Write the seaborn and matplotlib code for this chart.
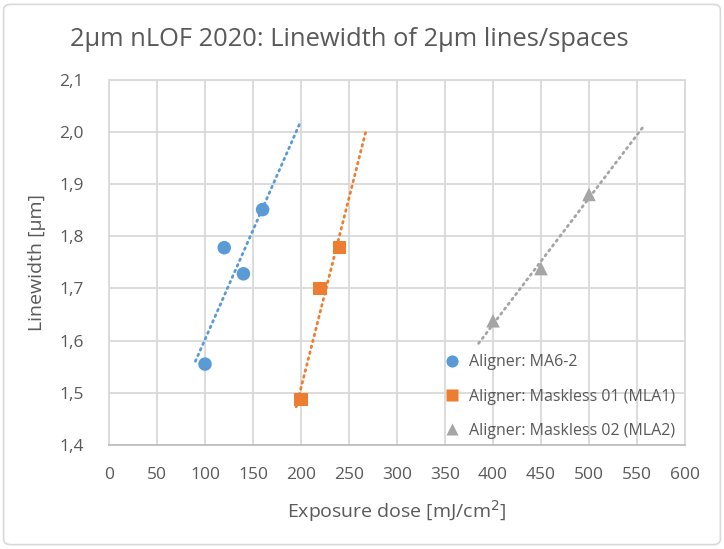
import numpy as np
import pandas as pd
import seaborn as sns
import matplotlib.pyplot as plt
from matplotlib.patches import FancyBboxPatch

# data
ma6_dose = [100, 120, 140, 160]
ma6_width = [1.555, 1.778, 1.728, 1.851]
mla1_dose = [200, 220, 240]
mla1_width = [1.487, 1.700, 1.778]
mla2_dose = [400, 450, 500]
mla2_width = [1.638, 1.738, 1.880]

series_names = ["Aligner: MA6-2", "Aligner: Maskless 01 (MLA1)", "Aligner: Maskless 02 (MLA2)"]
series_colors = ["#5B9BD5", "#ED7D31", "#A5A5A5"]
series_markers = ["o", "s", "^"]
# trendline extension (backward, forward) as set in the spreadsheet
trend_ext = [(10, 40), (5, 28), (15, 58)]

x_ticks = list(range(0, 601, 50))
y_ticks = [1.4, 1.5, 1.6, 1.7, 1.8, 1.9, 2.0, 2.1]
y_ticklabels = ["1,4", "1,5", "1,6", "1,7", "1,8", "1,9", "2,0", "2,1"]

df = pd.concat([
    pd.DataFrame({"dose": ma6_dose, "width": ma6_width, "series": series_names[0]}),
    pd.DataFrame({"dose": mla1_dose, "width": mla1_width, "series": series_names[1]}),
    pd.DataFrame({"dose": mla2_dose, "width": mla2_width, "series": series_names[2]}),
])

sns.set_theme(style="white")
plt.rcParams["font.family"] = ["Open Sans", "DejaVu Sans"]
text_col = "#595959"

fig = plt.figure(figsize=(7.24, 5.49), dpi=100)
fig.patch.set_facecolor("white")
ax = fig.add_axes([0.1506, 0.1894, 0.7955, 0.6656])

# chart border
border = FancyBboxPatch((0.005, 0.008), 0.99, 0.984, boxstyle="round,pad=0,rounding_size=0.01",
                        transform=fig.transFigure, fill=False, edgecolor="#D9D9D9", linewidth=1.2)
fig.patches.append(border)

# trendlines
for name, color, (back, fwd) in zip(series_names, series_colors, trend_ext):
    sub = df[df["series"] == name]
    k, b = np.polyfit(sub["dose"], sub["width"], 1)
    xs = np.array([sub["dose"].min() - back, sub["dose"].max() + fwd])
    ax.plot(xs, k * xs + b, color=color, linewidth=2, linestyle=(0, (0.6, 1.6)),
            dash_capstyle="round", zorder=2)

sns.scatterplot(data=df, x="dose", y="width", hue="series", style="series",
                palette=dict(zip(series_names, series_colors)),
                markers=dict(zip(series_names, series_markers)),
                s=95, edgecolor="none", ax=ax, zorder=3, legend=True)

ax.set_xlim(0, 600)
ax.set_ylim(1.4, 2.1)
ax.set_xticks(x_ticks)
ax.set_yticks(y_ticks)
ax.set_yticklabels(y_ticklabels)
ax.grid(True, color="#D9D9D9", linewidth=1.3)
ax.set_axisbelow(True)
for sp in ax.spines.values():
    sp.set_color("#D9D9D9")
    sp.set_linewidth(1.3)
ax.spines["bottom"].set_color("#BFBFBF")
ax.tick_params(axis="x", length=0, labelsize=12.5, labelcolor=text_col, pad=16)
ax.tick_params(axis="y", length=0, labelsize=12.5, labelcolor=text_col, pad=18)

ax.set_xlabel("Exposure dose [mJ/cm$^2$]", fontsize=14, color=text_col, labelpad=11)
ax.set_ylabel("Linewidth [µm]", fontsize=14, color=text_col, labelpad=10)
fig.suptitle("2µm nLOF 2020: Linewidth of 2µm lines/spaces", x=0.482, y=0.95,
             fontsize=18.4, color=text_col)

leg = ax.legend(loc="lower right", bbox_to_anchor=(1.0, -0.01), frameon=False,
                fontsize=11.5, handletextpad=0.1, labelspacing=1.15,
                markerscale=0.9, borderaxespad=0.2)
for t in leg.get_texts():
    t.set_color(text_col)

fig.savefig("out.png", dpi=100, facecolor="white")
